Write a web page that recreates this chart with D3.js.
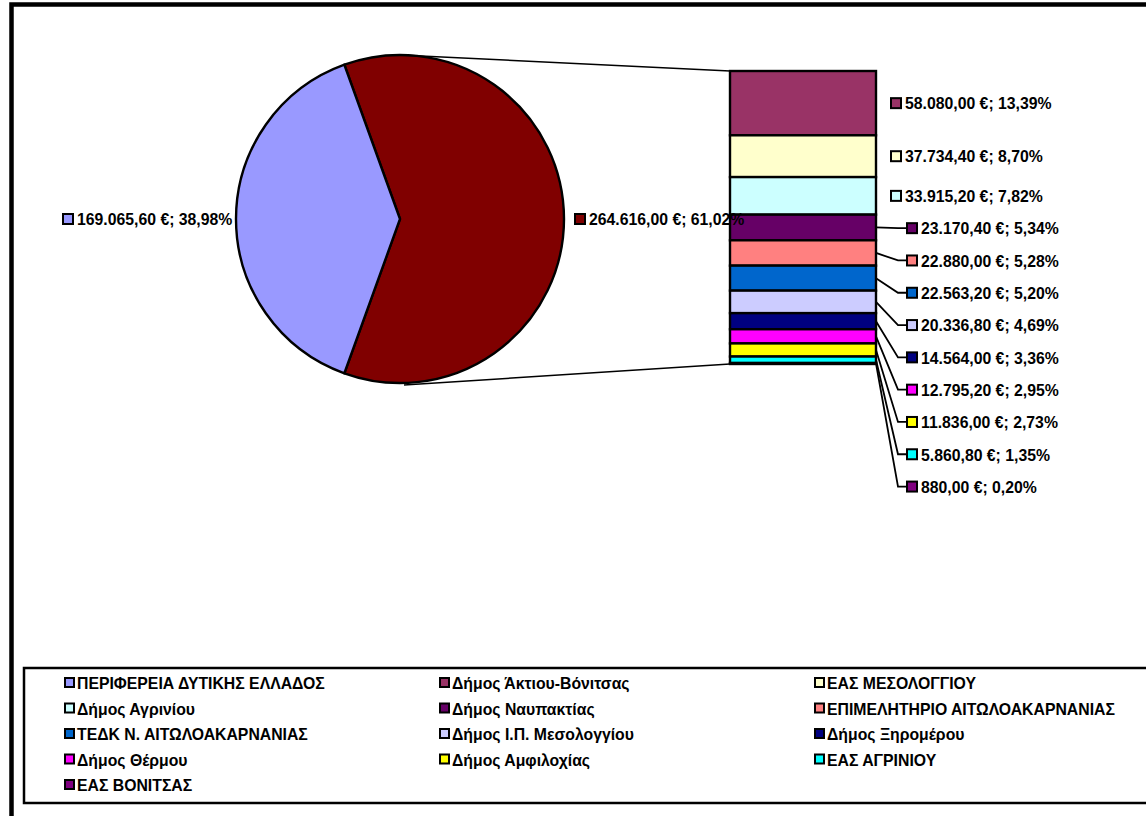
<!DOCTYPE html>
<html><head><meta charset="utf-8">
<script src="https://cdn.jsdelivr.net/npm/d3@7/dist/d3.min.js"></script>
<style>
html,body{margin:0;padding:0;background:#fff;overflow:hidden}
text{font-family:"Liberation Sans",Arial,sans-serif;font-weight:bold;fill:#000}
</style></head>
<body><svg id="c" width="1146" height="816"></svg>
<script>
// ---- data ----
const pieNames = ["ΠΕΡΙΦΕΡΕΙΑ ΔΥΤΙΚΗΣ ΕΛΛΑΔΟΣ", "Other"];
const pieValues = [169065.60, 264616.00];
const pieColors = ["#9999FF", "#800000"];

const barNames = ["Δήμος Άκτιου-Βόνιτσας","ΕΑΣ ΜΕΣΟΛΟΓΓΙΟΥ","Δήμος Αγρινίου","Δήμος Ναυπακτίας",
  "ΕΠΙΜΕΛΗΤΗΡΙΟ ΑΙΤΩΛΟΑΚΑΡΝΑΝΙΑΣ","ΤΕΔΚ Ν. ΑΙΤΩΛΟΑΚΑΡΝΑΝΙΑΣ","Δήμος Ι.Π. Μεσολογγίου","Δήμος Ξηρομέρου",
  "Δήμος Θέρμου","Δήμος Αμφιλοχίας","ΕΑΣ ΑΓΡΙΝΙΟΥ","ΕΑΣ ΒΟΝΙΤΣΑΣ"];
const barValues = [58080.00, 37734.40, 33915.20, 23170.40, 22880.00, 22563.20, 20336.80, 14564.00, 12795.20, 11836.00, 5860.80, 880.00];
const barColors = ["#993366","#FFFFCC","#CCFFFF","#660066","#FF8080","#0066CC","#CCCCFF","#000080","#FF00FF","#FFFF00","#00FFFF","#800080"];

// ---- setup ----
const svg = d3.select("#c");
const loc = d3.formatLocale({decimal:",", thousands:".", grouping:[3], currency:["","€"]});
const fmtVal = loc.format(",.2f");
const fmtPct = loc.format(".2f");
const total = d3.sum(pieValues);
const label = v => fmtVal(v) + " €; " + fmtPct(v/total*100) + "%";
const FS = 15.8;
const VS = 1.1; // slight vertical stretch of the glyphs

// outer frame
svg.append("rect").attr("x",11.5).attr("y",4.5).attr("width",1200).attr("height",900)
  .attr("fill","none").attr("stroke","#000").attr("stroke-width",4.5);

// ---- pie ----
const cx = 400, cy = 219, R = 164;
const otherAngle = pieValues[1]/total*2*Math.PI;
const pie = d3.pie().sort(null).value(d=>d)
  .startAngle(Math.PI/2 - otherAngle/2).endAngle(Math.PI/2 - otherAngle/2 + 2*Math.PI);
const arcs = pie([pieValues[1], pieValues[0]]);
const arc = d3.arc().innerRadius(0).outerRadius(R);
const pg = svg.append("g").attr("transform",`translate(${cx},${cy})`);
pg.selectAll("path").data(arcs).join("path")
  .attr("d",arc).attr("fill",(d,i)=>i===0?pieColors[1]:pieColors[0])
  .attr("stroke","#000").attr("stroke-width",2.4).attr("stroke-linejoin","round");

// ---- bar ----
const barX0 = 730, barX1 = 876, barTop = 71, barBot = 364;
const y = d3.scaleLinear().domain([0, d3.sum(barValues)]).range([barTop, barBot]);
const cum = d3.cumsum(barValues);
const segs = barValues.map((v,i)=>({v, i, y0: y(cum[i]-v), y1: y(cum[i])}));

// connector lines
svg.append("line").attr("x1",cx).attr("y1",cy-R).attr("x2",barX0).attr("y2",barTop)
  .attr("stroke","#000").attr("stroke-width",1.5);
svg.append("line").attr("x1",cx+4).attr("y1",cy+R+2).attr("x2",barX0).attr("y2",barBot)
  .attr("stroke","#000").attr("stroke-width",1.5);

svg.append("g").selectAll("rect").data(segs).join("rect")
  .attr("x",barX0).attr("y",d=>d.y0).attr("width",barX1-barX0).attr("height",d=>d.y1-d.y0)
  .attr("fill",d=>barColors[d.i]).attr("stroke","#000").attr("stroke-width",2.4);

// label layout
let prev = -1e9;
segs.forEach(s=>{
  const mid = (s.y0+s.y1)/2;
  s.ly = Math.max(mid, prev + 32.3);
  prev = s.ly;
  s.lead = (s.y1 - s.y0) < 32;
});

function addText(g, x, txt){
  g.append("text").attr("transform",`translate(${x},0) scale(1,${VS})`)
    .attr("dy","0.36em").attr("font-size",FS).text(txt);
}
function dataLabel(x, yy, color, txt){
  const g = svg.append("g").attr("transform",`translate(${x},${yy})`);
  g.append("rect").attr("x",0).attr("y",-5).attr("width",10).attr("height",10)
    .attr("fill",color).attr("stroke","#000").attr("stroke-width",2);
  addText(g, 14, txt);
}

segs.forEach(s=>{
  const mid = (s.y0+s.y1)/2;
  if(s.lead){
    svg.append("path").attr("d",`M${barX1},${mid} L${barX1+22},${s.ly} L${barX1+30},${s.ly}`)
      .attr("fill","none").attr("stroke","#000").attr("stroke-width",1.8);
    dataLabel(barX1+31, s.ly, barColors[s.i], label(s.v));
  } else {
    dataLabel(barX1+15, s.ly, barColors[s.i], label(s.v));
  }
});

// pie labels
dataLabel(63, cy, pieColors[0], label(pieValues[0]));
dataLabel(575, cy, pieColors[1], label(pieValues[1]));

// ---- legend ----
svg.append("rect").attr("x",24).attr("y",668).attr("width",1200).attr("height",135)
  .attr("fill","none").attr("stroke","#000").attr("stroke-width",2.5);
const legNames = [pieNames[0]].concat(barNames);
const legColors = [pieColors[0]].concat(barColors);
const lg = svg.append("g");
legNames.forEach((n,i)=>{
  const col = i%3, row = Math.floor(i/3);
  const gx = 65 + col*375, gy = 683 + row*25.5;
  const g = lg.append("g").attr("transform",`translate(${gx},${gy})`);
  g.append("rect").attr("x",0).attr("y",-5).attr("width",9).attr("height",9)
    .attr("fill",legColors[i]).attr("stroke","#000").attr("stroke-width",2);
  addText(g, 12, n);
});
</script></body></html>
